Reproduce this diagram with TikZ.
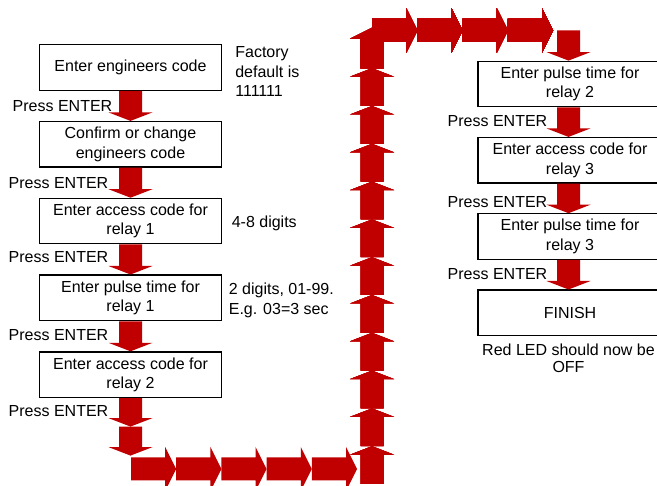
\documentclass[tikz,border=0pt]{standalone}
\usepackage{fontspec}
\setmainfont{Liberation Sans}
\usetikzlibrary{calc, positioning}
\definecolor{arrred}{HTML}{C00000}

% block arrow from #2 to tip #3, head length #1
\newcommand{\blkarrow}[3][8.5pt]{%
  \coordinate (ba-s) at #2;
  \coordinate (ba-t) at #3;
  \coordinate (ba-h) at ($(ba-t)!#1!(ba-s)$);
  \fill[arrred] ($(ba-s)!11.5pt!90:(ba-t)$) -- ($(ba-h)!11.5pt!-90:(ba-s)$)
    -- ($(ba-h)!22pt!-90:(ba-s)$) -- (ba-t) -- ($(ba-h)!22pt!90:(ba-s)$)
    -- ($(ba-h)!11.5pt!90:(ba-s)$) -- ($(ba-s)!11.5pt!-90:(ba-t)$) -- cycle;}

\begin{document}
\begin{tikzpicture}[x=1pt, y=-1pt, node distance=30pt,
    every node/.style={font=\fontsize{16pt}{19.5pt}\selectfont},
    box/.style={draw, line width=1.3pt, fill=white, minimum width=182pt,
      minimum height=45.5pt, align=center, inner sep=2pt},
    enter/.style={anchor=east, inner sep=0pt},
    note/.style={anchor=west, align=left, inner sep=0pt}]
  \useasboundingbox (0,0) rectangle (657,486);

  % left column
  \node[box] (b1) at (130.5,67.5) {Enter engineers code};
  \node[box, below=of b1] (b2) {Confirm or change\\engineers code};
  \node[box, below=of b2] (b3) {Enter access code for\\relay 1};
  \node[box, below=of b3] (b4) {Enter pulse time for\\relay 1};
  \node[box, below=of b4] (b5) {Enter access code for\\relay 2};

  % right column
  \node[box, minimum width=184pt] (r1) at (570,84) {Enter pulse time for\\relay 2};
  \node[box, minimum width=184pt, below=29.5pt of r1] (r2) {Enter access code for\\relay 3};
  \node[box, minimum width=184pt, below=29.5pt of r2] (r3) {Enter pulse time for\\relay 3};
  \node[box, minimum width=184pt, below=29.5pt of r3] (r4) {FINISH};

  % notes
  \node[note] (n1) at ($(b1.east)+(13,4)$) {Factory\\default is\\111111};
  \node[note] (n2) at ($(b3.east)+(9.5,2)$) {4-8 digits};
  \node[note] (n3) at ($(b4.east)+(6.5,2.5)$) {2 digits, 01-99.\\E.g. 03=3 sec};
  \node[align=center, inner sep=0pt, font=\fontsize{16pt}{17.5pt}\selectfont]
    (n4) at (568.5,358.5) {Red LED should now be\\OFF};

  % press enter steps
  \node[enter] (e1) at ($(b1.south)!.5!(b2.north)+(-18,0)$) {Press ENTER};
  \node[enter] (e2) at ($(b2.south)!.5!(b3.north)+(-22,0)$) {Press ENTER};
  \node[enter] (e3) at ($(b3.south)!.5!(b4.north)+(-22,-2)$) {Press ENTER};
  \node[enter] (e4) at ($(b4.south)!.5!(b5.north)+(-22,-1)$) {Press ENTER};
  \node[enter] (e5) at ($(b5.south)+(-22,12.5)$) {Press ENTER};
  \node[enter] (e6) at ($(r1.south)!.5!(r2.north)+(-22.5,-1.5)$) {Press ENTER};
  \node[enter] (e7) at ($(r2.south)!.5!(r3.north)+(-22.5,4)$) {Press ENTER};
  \node[enter] (e8) at ($(r3.south)!.5!(r4.north)+(-22.5,-1)$) {Press ENTER};

  \blkarrow{(b1.south)}{(b2.north)}
  \blkarrow{(b2.south)}{(b3.north)}
  \blkarrow{(b3.south)}{(b4.north)}
  \blkarrow{(b4.south)}{(b5.north)}
  \coordinate (d1) at ($(b5.south)+(0,28.5)$);
  \coordinate (d2) at ($(d1)+(0,29)$);
  \blkarrow{(b5.south)}{(d1)}
  \blkarrow{(d1)}{(d2)}

  % long way round
  \foreach \i in {0,...,4}
    \blkarrow[11pt]{({131+45.2*\i},469)}{({176.2+45.2*\i},469)}
  \foreach \i in {0,...,10}
    \blkarrow{(372,{484-37.8*\i})}{(372,{446.2-37.8*\i})}
  \blkarrow[11pt]{(372,68.2)}{(372,28)}
  \foreach \i in {0,...,3}
    \blkarrow[11pt]{({372+45.25*\i},30.5)}{({417.25+45.25*\i},30.5)}
  \coordinate (t1) at (568.5,30.5);
  \blkarrow{(t1)}{($(r1.north)-(1.5,0)$)}

  \blkarrow{($(r1.south)-(1.5,0)$)}{($(r2.north)-(1.5,0)$)}
  \blkarrow{($(r2.south)-(1.5,0)$)}{($(r3.north)-(1.5,0)$)}
  \blkarrow{($(r3.south)-(1.5,0)$)}{($(r4.north)-(1.5,0)$)}
\end{tikzpicture}
\end{document}
